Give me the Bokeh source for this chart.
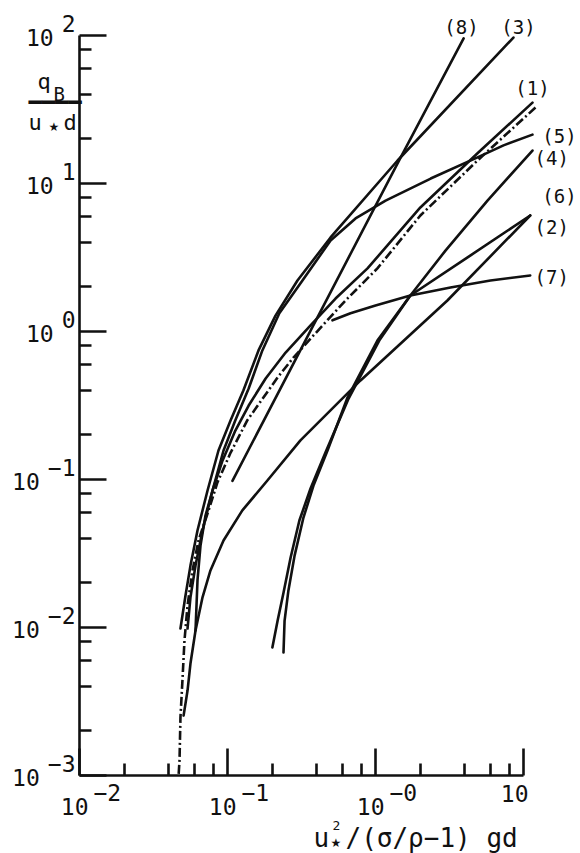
from bokeh.plotting import figure
from bokeh.models import FixedTicker, Label, Range1d, CustomJSTickFormatter
from bokeh.embed import file_html
from bokeh.resources import INLINE

# ---- axes: ticks and tick label exponents ----
x_ticks = [0.01, 0.1, 1.0, 10.0]
x_minor = [0.02, 0.04, 0.06, 0.08, 0.2, 0.4, 0.6, 0.8, 2.0, 4.0, 6.0, 8.0]
x_exps = ["−2", "−1", "−0", ""]
y_ticks = [1e-3, 1e-2, 1e-1, 1.0, 10.0, 100.0]
y_minor = [0.002, 0.004, 0.006, 0.008, 0.02, 0.04, 0.06, 0.08, 0.2, 0.4, 0.6, 0.8,
           2.0, 4.0, 6.0, 8.0, 20.0, 40.0, 60.0, 80.0]
y_exps = ["−3", "−2", "−1", "0", "1", "2"]

# ---- transport curves: q_B/(u* d) against u*^2/((sigma/rho-1) g d) ----
x1 = [11.5, 4.89, 2.01, 0.883, 0.537, 0.364, 0.247, 0.181, 0.139, 0.113, 0.0925, 0.0792, 0.071, 0.0657, 0.0627, 0.0608]
y1 = [35.2, 16.0, 6.89, 2.67, 1.67, 1.10, 0.721, 0.481, 0.316, 0.214, 0.134, 0.0843, 0.0571, 0.0358, 0.0208, 0.00955]

x1_dd = [12.05, 4.89, 2.01, 1.03, 0.627, 0.381, 0.279, 0.218, 0.136, 0.105, 0.0855, 0.0745, 0.0637, 0.058, 0.0537, 0.0512, 0.0496, 0.0481, 0.0474, 0.0467]
y1_dd = [32.6, 14.3, 6.08, 2.67, 1.62, 0.94, 0.667, 0.489, 0.251, 0.152, 0.0955, 0.0618, 0.0387, 0.0243, 0.0141, 0.00817, 0.00438, 0.00247, 0.00126, 0.001]

x2 = [11.1, 3.06, 0.792, 0.311, 0.186, 0.126, 0.094, 0.0767, 0.0678, 0.0608, 0.0562, 0.0537, 0.0505]
y2 = [6.08, 1.62, 0.467, 0.184, 0.0984, 0.0618, 0.0387, 0.0243, 0.016, 0.00955, 0.00571, 0.00375, 0.00254]

x3 = [8.55, 1.41, 0.497, 0.297, 0.211, 0.162, 0.128, 0.105, 0.0869, 0.0733, 0.0627, 0.0562, 0.052, 0.0481]
y3 = [96.9, 14.3, 4.32, 2.21, 1.28, 0.745, 0.399, 0.251, 0.157, 0.0843, 0.0452, 0.0262, 0.0164, 0.00984]

x4 = [11.5, 5.71, 2.97, 1.72, 1.03, 0.647, 0.474, 0.381, 0.326, 0.284, 0.258, 0.243, 0.239]
y4 = [16.7, 7.67, 3.52, 1.75, 0.869, 0.358, 0.157, 0.091, 0.0553, 0.0306, 0.0178, 0.0111, 0.00678]

x5 = [11.5, 7.33, 4.89, 2.36, 1.17, 0.733, 0.497, 0.321, 0.224, 0.172, 0.139, 0.113, 0.094, 0.0792, 0.0678, 0.0608, 0.0562, 0.0537]
y5 = [21.4, 18.1, 15.0, 10.8, 7.67, 5.81, 4.12, 2.21, 1.33, 0.745, 0.412, 0.251, 0.157, 0.0843, 0.0452, 0.0262, 0.016, 0.00984]

x6 = [11.1, 4.39, 1.72, 1.06, 0.658, 0.459, 0.364, 0.306, 0.267, 0.239, 0.218, 0.201]
y6 = [6.08, 3.27, 1.75, 0.869, 0.352, 0.152, 0.0869, 0.0528, 0.0297, 0.0172, 0.0111, 0.00733]

x7 = [0.512, 0.678, 1.0, 1.72, 3.21, 5.98, 11.1]
y7 = [1.19, 1.33, 1.50, 1.75, 1.98, 2.21, 2.39]

x8 = [0.108, 1.48, 3.94]
y8 = [0.098, 15.0, 95.5]

# curve tags
tag_text = ["(8)", "(3)", "(1)", "(5)", "(4)", "(6)", "(2)", "(7)"]
tag_x = [3.81, 9.25, 11.5, 17.5, 15.5, 17.5, 15.5, 15.5]
tag_y = [115.0, 115.0, 44.5, 20.8, 14.8, 8.17, 5.05, 2.32]

MONO = "DejaVu Sans Mono"
INK = "#111111"

# The data area fills the whole canvas so that tags and titles outside the
# axes are not clipped; the axes themselves are pinned at 10^-2 and 10^-3.
W, H = 580, 853
ORIGIN_X, TOP_Y, DECADE = 79, 35, 148.0
x_lo = 10 ** (-2 - ORIGIN_X / DECADE)
x_hi = 10 ** (-2 + (W - ORIGIN_X) / DECADE)
y_hi = 10 ** (2 + TOP_Y / DECADE)
y_lo = 10 ** (2 - (H - TOP_Y) / DECADE)

p = figure(width=W, height=H, x_axis_type="log", y_axis_type="log",
           x_range=Range1d(x_lo, x_hi), y_range=Range1d(y_lo, y_hi),
           min_border=0, min_border_left=0, min_border_right=0,
           min_border_top=0, min_border_bottom=0,
           output_backend="svg", toolbar_location=None, title=None)
p.outline_line_color = None
p.xgrid.visible = False
p.ygrid.visible = False
p.background_fill_color = "white"
p.border_fill_color = "white"

blank = CustomJSTickFormatter(code="return ''")
axes = ((p.xaxis[0], x_ticks, x_minor, y_ticks[0], (x_ticks[0], x_ticks[-1])),
        (p.yaxis[0], y_ticks, y_minor, x_ticks[0], (y_ticks[0], y_ticks[-1])))
for ax, ticks, minor, loc, bnds in axes:
    ax.ticker = FixedTicker(ticks=ticks, minor_ticks=minor)
    ax.formatter = blank
    ax.fixed_location = loc
    ax.bounds = bnds
    ax.major_label_standoff = 0
    ax.major_tick_in = 27
    ax.major_tick_out = 0
    ax.minor_tick_in = 12
    ax.minor_tick_out = 0
    ax.major_tick_line_width = 2.6
    ax.minor_tick_line_width = 2.6
    ax.major_tick_line_color = INK
    ax.minor_tick_line_color = INK
    ax.axis_line_width = 2.6
    ax.axis_line_color = INK

# curves
for xs, ys in ((x1, y1), (x2, y2), (x3, y3), (x4, y4), (x5, y5), (x6, y6), (x7, y7), (x8, y8)):
    p.line(xs, ys, line_width=2.6, line_color=INK, line_join="round", line_cap="round")
p.line(x1_dd, y1_dd, line_width=2.6, line_color=INK, line_dash="9 3 2 3")


def lab(x, y, text, dx=0, dy=0, size=22, align="left", baseline="middle", font=MONO):
    p.add_layout(Label(x=x, y=y, x_offset=dx, y_offset=dy, text=text,
                       text_font=font, text_font_size=f"{size}px", text_color=INK,
                       text_align=align, text_baseline=baseline))


# tick labels
TS = 23
cw = 0.602 * TS
for t, e in zip(y_ticks, y_exps):
    lab(x_ticks[0], t, e, dx=-4, dy=12, size=TS, align="right")
    lab(x_ticks[0], t, "10", dx=-4 - len(e) * cw - 8, dy=-2, size=TS, align="right")
for t, e in zip(x_ticks, x_exps):
    if e:
        lab(t, y_ticks[0], "10", dx=9, dy=-31, size=TS, align="right")
        lab(t, y_ticks[0], e, dx=14, dy=-17, size=TS, align="left")
    else:
        lab(t, y_ticks[0], "10", dx=5, dy=-18, size=TS, align="right")

# curve tags
for s, tx, ty in zip(tag_text, tag_x, tag_y):
    lab(tx, ty, s, size=19, align="center")

# x-axis title: u*^2/(sigma/rho-1)gd
x0, y0 = x_ticks[0], y_ticks[0]
lab(x0, y0, "u", dx=234, dy=-62, size=26, baseline="alphabetic")
lab(x0, y0, "2", dx=253, dy=-50, size=13, baseline="alphabetic")
lab(x0, y0, "★", dx=251, dy=-67, size=12, baseline="alphabetic", font="DejaVu Sans")
lab(x0, y0, "/(σ/ρ−1) gd", dx=266, dy=-62, size=26, baseline="alphabetic")

# y-axis title: q_B / (u* d)
xt, yt = x_ticks[0], y_ticks[-1]
lab(xt, yt, "q", dx=-42, dy=-46, size=22, baseline="alphabetic")
lab(xt, yt, "B", dx=-26, dy=-58, size=19, baseline="alphabetic")
lab(xt, yt, "━━━━", dx=-51, dy=-67, size=22)
lab(xt, yt, "u", dx=-51, dy=-87, size=22, baseline="alphabetic")
lab(xt, yt, "★", dx=-31, dy=-91, size=12, baseline="alphabetic", font="DejaVu Sans")
lab(xt, yt, "d", dx=-16, dy=-87, size=22, baseline="alphabetic")

open("out.html", "w").write(file_html(p, INLINE))
